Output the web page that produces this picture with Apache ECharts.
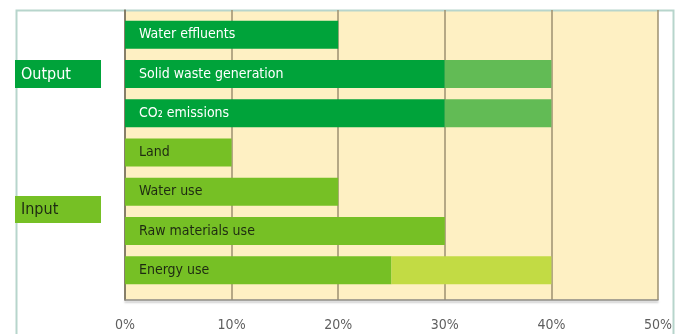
<!DOCTYPE html>
<html>
<head>
<meta charset="utf-8">
<script src="https://cdn.jsdelivr.net/npm/echarts@6/dist/echarts.min.js"></script>
<style>
  html, body { margin: 0; padding: 0; background: #fff; }
  #impact { width: 678px; height: 334px; }
</style>
</head>
<body>
<div id="impact"></div>
<script>
// rows top to bottom
const categories = ["Water effluents", "Solid waste generation", "CO₂ emissions", "Land", "Water use", "Raw materials use", "Energy use"];
const groupOf = ["Output", "Output", "Output", "Input", "Input", "Input", "Input"];
const baseValues = [20, 30, 30, 10, 20, 30, 25];
const extraValues = [0, 10, 10, 0, 0, 0, 15];
const tickValues = [0, 10, 20, 30, 40, 50];
const groups = ["Output", "Input"];

const fontFamily = "'DejaVu Sans Condensed', 'Liberation Sans Narrow', 'DejaVu Sans', sans-serif";
const colors = {
  Output: { base: "#00a33a", extra: "#62bb55", text: "#ffffff" },
  Input: { base: "#76c025", extra: "#c2db44", text: "#1e2a12" }
};

let myChart = echarts.init(document.getElementById("impact"));

let option = {
  animation: false,
  grid: [
    { left: 125, right: 20, top: 10, bottom: 34, show: true, backgroundColor: "#fef0c3", borderWidth: 0 },
    { left: 125, right: 20, top: 15, bottom: 44 }
  ],
  xAxis: [
    {
      gridIndex: 0,
      type: "value",
      min: tickValues[0],
      max: tickValues[tickValues.length - 1],
      interval: 10,
      axisLine: { show: true, lineStyle: { color: "#8c8a84", width: 1.5, shadowColor: "rgba(0,0,0,0.25)", shadowOffsetY: 2, shadowBlur: 2 } },
      axisTick: { show: false },
      splitLine: { show: true, lineStyle: { color: "#9c9071", width: 1.5 } },
      axisLabel: { color: "#5e5e5e", fontSize: 14, fontFamily: fontFamily, margin: 18, formatter: "{value}%" }
    },
    { gridIndex: 1, type: "value", min: 0, max: 50, show: false }
  ],
  yAxis: [
    {
      gridIndex: 0,
      type: "value",
      min: 0,
      max: 1,
      axisLine: { show: true, lineStyle: { color: "#77705e", width: 1.5 } },
      axisTick: { show: false },
      axisLabel: { show: false },
      splitLine: { show: false }
    },
    {
      gridIndex: 1,
      type: "category",
      inverse: true,
      data: categories,
      show: false
    }
  ],
  series: [
    {
      type: "bar",
      xAxisIndex: 1,
      yAxisIndex: 1,
      stack: "total",
      barWidth: 28,
      data: baseValues.map((v, i) => ({
        value: v,
        itemStyle: { color: colors[groupOf[i]].base },
        label: { color: colors[groupOf[i]].text }
      })),
      label: {
        show: true,
        position: "insideLeft",
        distance: 14,
        fontSize: 14,
        fontFamily: fontFamily,
        formatter: p => categories[p.dataIndex]
      }
    },
    {
      type: "bar",
      xAxisIndex: 1,
      yAxisIndex: 1,
      stack: "total",
      barWidth: 28,
      data: extraValues.map((v, i) => ({
        value: v,
        itemStyle: { color: colors[groupOf[i]].extra }
      }))
    }
  ],
  graphic: [
    { type: "rect", left: 14, top: 8, shape: { width: 657, height: 340 }, style: { fill: "none", stroke: "#b7d5cc", lineWidth: 2 }, silent: true },
    { type: "rect", left: 15, top: 60, shape: { width: 86, height: 28 }, style: { fill: colors.Output.base } },
    { type: "text", x: 21, y: 75, style: { text: groups[0], fill: "#ffffff", fontSize: 16, fontFamily: fontFamily, verticalAlign: "middle" } },
    { type: "rect", left: 15, top: 196, shape: { width: 86, height: 27 }, style: { fill: colors.Input.base } },
    { type: "text", x: 21, y: 210, style: { text: groups[1], fill: colors.Input.text, fontSize: 16, fontFamily: fontFamily, verticalAlign: "middle" } }
  ]
};
myChart.setOption(option);
</script>
</body>
</html>
